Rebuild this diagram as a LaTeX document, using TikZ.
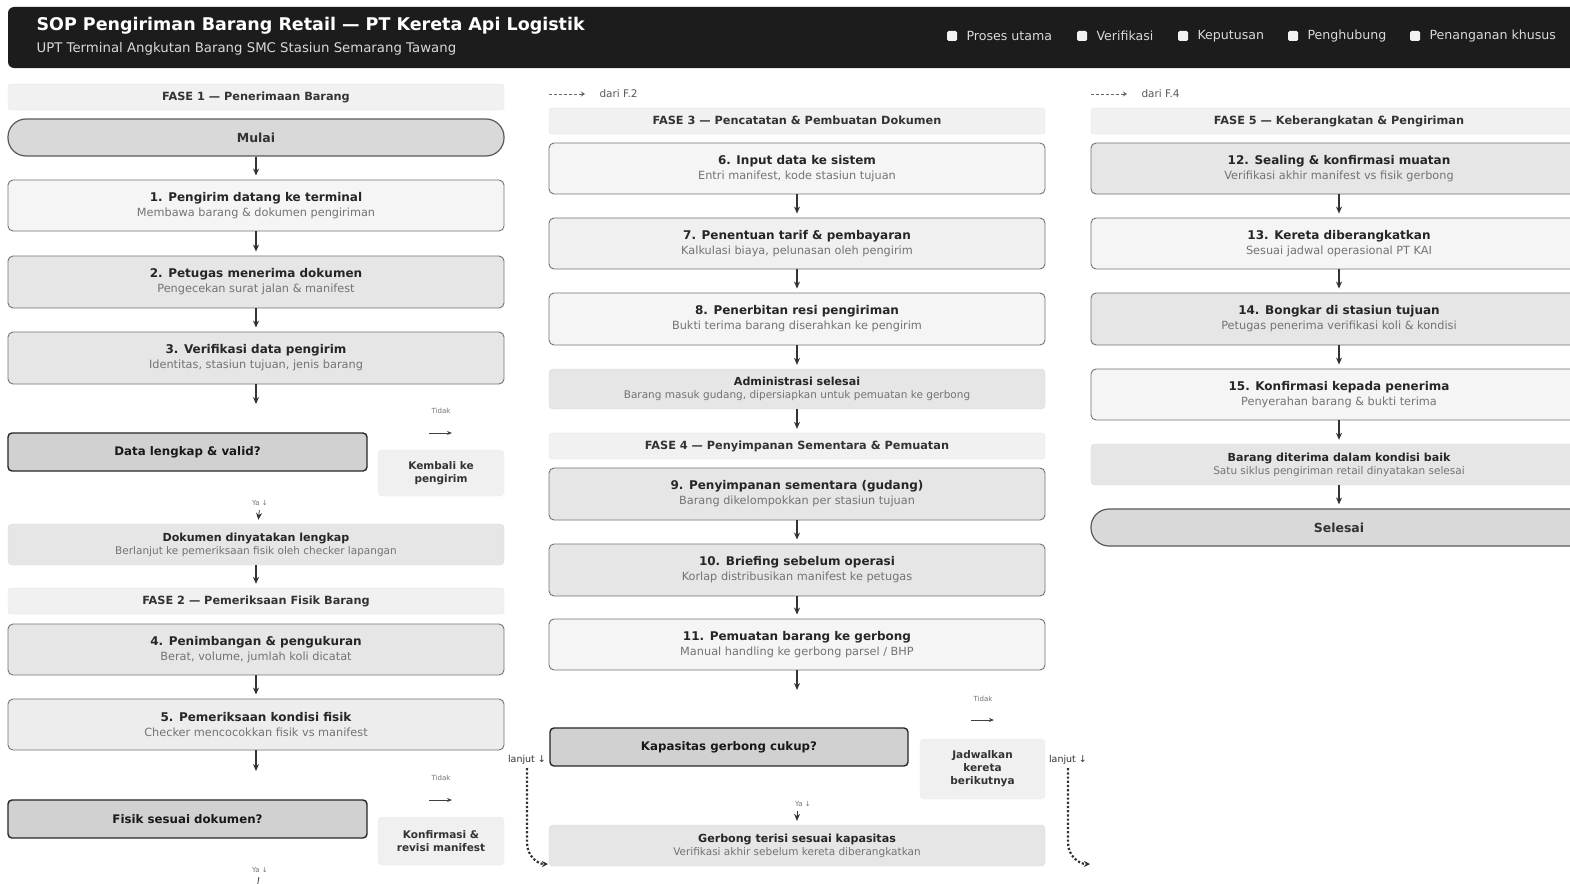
\documentclass[tikz,border=0pt]{standalone}
\usepackage{fontspec}
\setmainfont{DejaVu Sans}
\usepackage{tikz}
\usetikzlibrary{arrows.meta, positioning}

\definecolor{hdr}{HTML}{1C1C1C}
\definecolor{lightbox}{HTML}{F5F5F5}
\definecolor{graybox}{HTML}{E6E6E6}
\definecolor{bandfill}{HTML}{F1F1F1}

\newcommand{\steplbl}[2]{{\bfseries\fontsize{12}{15}\selectfont #1}\\[3pt]{\fontsize{11.3}{12}\selectfont\color{black!55}#2}}
\newcommand{\closelbl}[2]{{\bfseries\fontsize{11.1}{13}\selectfont #1}\\[1pt]{\fontsize{10.5}{11}\selectfont\color{black!55}#2}}

\begin{document}
\begin{tikzpicture}[x=1pt,y=-1pt,
  phase/.style={draw=black!10, fill=bandfill, rounded corners=3pt, minimum width=496pt, minimum height=26pt, inner sep=0pt, text height=8pt, text depth=1pt, font=\bfseries\fontsize{11.3}{13}\selectfont, text=black!80},
  stepbox/.style={draw=black!55, line width=0.9pt, rounded corners=5pt, minimum width=496pt, minimum height=52pt, inner sep=0pt, align=center, text=black!85},
  endbox/.style={draw=black!15, fill=graybox, rounded corners=4pt, minimum width=496pt, minimum height=41pt, inner sep=0pt, align=center, text=black!85},
  term/.style={draw=black!65, line width=1.2pt, fill=black!15, rounded corners=18pt, minimum width=496pt, minimum height=37pt, font=\bfseries\fontsize{12.5}{15}\selectfont, text=black!80},
  decision/.style={draw=black!85, line width=1.4pt, fill=black!18, rounded corners=4pt, minimum width=359pt, minimum height=38pt, font=\bfseries\fontsize{11.8}{15}\selectfont, text=black!90},
  sidebox/.style={draw=black!8, fill=black!6, rounded corners=4pt, minimum width=126pt, minimum height=46pt, inner sep=0pt, align=center, font=\bfseries\fontsize{10.5}{13}\selectfont, text=black!80},
  tinylbl/.style={font=\fontsize{7}{8}\selectfont, text=black!55},
  lanjutlbl/.style={font=\fontsize{9.5}{10}\selectfont, text=black!80},
  flow/.style={-{Stealth[length=7pt,width=6pt]}, line width=1.3pt, draw=black!80, shorten >=4pt},
  jump/.style={-{Stealth[length=6pt,width=6pt]}, dash pattern=on 2.2pt off 2pt, line width=2.2pt, draw=black!80},
]
\useasboundingbox (0,0) rectangle (1570,883);
\clip (0,0) rectangle (1570,883);
\fill[white] (0,0) rectangle (1570,883);

% header bar
\fill[hdr, rounded corners=6pt] (8,7) rectangle (1580,68);
\node[anchor=west, text=white, font=\bfseries\fontsize{17.5}{19}\selectfont] (title) at (33,26) {SOP Pengiriman Barang Retail — PT Kereta Api Logistik};
\node[anchor=west, text=black!15, font=\fontsize{13.3}{15}\selectfont] (subtitle) at (33,49) {UPT Terminal Angkutan Barang SMC Stasiun Semarang Tawang};

% legend
\foreach \lx/\ltxt in {952/Proses utama, 1082/Verifikasi, 1183/Keputusan, 1293/Penghubung, 1415/Penanganan khusus} {
  \fill[black!5, rounded corners=1.5pt] (\lx-5,31) rectangle (\lx+5,41);
  \node[anchor=west, text=black!15, font=\fontsize{12.6}{14}\selectfont] at (\lx+11,36) {\ltxt};
}

% ---------- column 1 ----------
\node[phase] (f1) at (256,97) {FASE 1 — Penerimaan Barang};
\node[term] (mulai) at (256,137.5) {Mulai};
\node[stepbox, fill=lightbox, minimum height=51pt] (s1) at (256,205.5) {\steplbl{1. Pengirim datang ke terminal}{Membawa barang \& dokumen pengiriman}};
\node[stepbox, fill=graybox] (s2) at (256,282) {\steplbl{2. Petugas menerima dokumen}{Pengecekan surat jalan \& manifest}};
\node[stepbox, fill=graybox] (s3) at (256,358) {\steplbl{3. Verifikasi data pengirim}{Identitas, stasiun tujuan, jenis barang}};
\coordinate (d1in) at (256,404);
\node[decision] (dec1) at (187.5,452) {Data lengkap \& valid?};
\node[tinylbl] (tidak1) at (441,411) {Tidak};
\coordinate (t1a) at (429,433);
\coordinate (t1b) at (452,433);
\node[sidebox] (kembali) at (441,473) {Kembali ke\\pengirim};
\node[tinylbl] (ya1) at (260,503) {Ya ↓};
\node[endbox] (dok) at (256,544.5) {\closelbl{Dokumen dinyatakan lengkap}{Berlanjut ke pemeriksaan fisik oleh checker lapangan}};
\node[phase] (f2) at (256,601) {FASE 2 — Pemeriksaan Fisik Barang};
\node[stepbox, fill=graybox, minimum height=51pt] (s4) at (256,649.5) {\steplbl{4. Penimbangan \& pengukuran}{Berat, volume, jumlah koli dicatat}};
\node[stepbox, fill=black!7, minimum height=51pt] (s5) at (256,724.5) {\steplbl{5. Pemeriksaan kondisi fisik}{Checker mencocokkan fisik vs manifest}};
\coordinate (d2in) at (256,771);
\node[tinylbl] (tidak2) at (441,778) {Tidak};
\coordinate (t2a) at (429,800);
\coordinate (t2b) at (452,800);
\node[decision] (dec2) at (187.5,819) {Fisik sesuai dokumen?};
\node[sidebox, minimum height=48pt] (konfirm) at (441,841) {Konfirmasi \&\\revisi manifest};
\node[tinylbl] (ya2) at (260,870) {Ya ↓};
\coordinate (ya2end) at (256,895);

\draw[flow] (mulai) -- (s1);
\draw[flow] (s1) -- (s2);
\draw[flow] (s2) -- (s3);
\draw[flow, shorten >=0pt] (s3) -- (d1in);
\draw[-{Stealth[length=5pt,width=4pt]}, line width=0.9pt, draw=black!75] (t1a) -- (t1b);
\draw[flow, line width=0.8pt, shorten <=1pt] (ya1) -- (dok);
\draw[flow] (dok) -- (f2);
\draw[flow] (s4) -- (s5);
\draw[flow, shorten >=0pt] (s5) -- (d2in);
\draw[-{Stealth[length=5pt,width=4pt]}, line width=0.9pt, draw=black!75] (t2a) -- (t2b);
\draw[line width=0.8pt, draw=black!75, shorten <=1pt] (ya2) -- (ya2end);

% ---------- column 2 ----------
\coordinate (m2a) at (549,94);
\coordinate (m2b) at (585,94);
\draw[-{Stealth[length=4pt,width=5pt]}, dash pattern=on 3pt off 2pt, line width=1pt, draw=black!60] (m2a) -- (m2b);
\node[anchor=west, font=\fontsize{10.5}{11}\selectfont, text=black!65] (dari2) at (596,94) {dari F.2};
\node[phase] (f3) at (797,121) {FASE 3 — Pencatatan \& Pembuatan Dokumen};
\node[stepbox, fill=lightbox, minimum height=51pt] (s6) at (797,168.5) {\steplbl{6. Input data ke sistem}{Entri manifest, kode stasiun tujuan}};
\node[stepbox, fill=black!6, minimum height=51pt] (s7) at (797,243.5) {\steplbl{7. Penentuan tarif \& pembayaran}{Kalkulasi biaya, pelunasan oleh pengirim}};
\node[stepbox, fill=lightbox] (s8) at (797,319) {\steplbl{8. Penerbitan resi pengiriman}{Bukti terima barang diserahkan ke pengirim}};
\node[endbox, minimum height=40pt] (adm) at (797,389) {\closelbl{Administrasi selesai}{Barang masuk gudang, dipersiapkan untuk pemuatan ke gerbong}};
\node[phase] (f4) at (797,446) {FASE 4 — Penyimpanan Sementara \& Pemuatan};
\node[stepbox, fill=graybox] (s9) at (797,494) {\steplbl{9. Penyimpanan sementara (gudang)}{Barang dikelompokkan per stasiun tujuan}};
\node[stepbox, fill=graybox] (s10) at (797,570) {\steplbl{10. Briefing sebelum operasi}{Korlap distribusikan manifest ke petugas}};
\node[stepbox, fill=lightbox, minimum height=51pt] (s11) at (797,644.5) {\steplbl{11. Pemuatan barang ke gerbong}{Manual handling ke gerbong parsel / BHP}};
\coordinate (d3in) at (797,690);
\node[tinylbl] (tidak3) at (983,699) {Tidak};
\coordinate (t3a) at (971,720);
\coordinate (t3b) at (994,720);
\node[decision, minimum width=358pt] (dec3) at (729,747) {Kapasitas gerbong cukup?};
\node[sidebox, minimum width=125pt, minimum height=60pt] (jadwal) at (982.5,769) {Jadwalkan\\kereta\\berikutnya};
\node[tinylbl] (ya3) at (803,804) {Ya ↓};
\node[endbox] (gerbong) at (797,845.5) {\closelbl{Gerbong terisi sesuai kapasitas}{Verifikasi akhir sebelum kereta diberangkatkan}};

\draw[flow] (s6) -- (s7);
\draw[flow] (s7) -- (s8);
\draw[flow] (s8) -- (adm);
\draw[flow] (adm) -- (f4);
\draw[flow] (s9) -- (s10);
\draw[flow] (s10) -- (s11);
\draw[flow, shorten >=0pt] (s11) -- (d3in);
\draw[-{Stealth[length=5pt,width=4pt]}, line width=0.9pt, draw=black!75] (t3a) -- (t3b);
\draw[flow, line width=0.8pt, shorten <=1pt] (ya3.south -| gerbong.north) -- (gerbong);

% continuation links
\node[lanjutlbl] (lanjut1) at (527,760) {lanjut ↓};
\coordinate (lj1end) at (548,864);
\draw[jump] (lanjut1.south) -- (527,843) to[out=-90, in=180] (lj1end);
\node[lanjutlbl] (lanjut2) at (1068,760) {lanjut ↓};
\coordinate (lj2end) at (1090,864);
\draw[jump] (lanjut2.south) -- (1068,843) to[out=-90, in=180] (lj2end);

% ---------- column 3 ----------
\coordinate (m4a) at (1091,94);
\coordinate (m4b) at (1127,94);
\draw[-{Stealth[length=4pt,width=5pt]}, dash pattern=on 3pt off 2pt, line width=1pt, draw=black!60] (m4a) -- (m4b);
\node[anchor=west, font=\fontsize{10.5}{11}\selectfont, text=black!65] (dari4) at (1138,94) {dari F.4};
\node[phase] (f5) at (1339,121) {FASE 5 — Keberangkatan \& Pengiriman};
\node[stepbox, fill=graybox, minimum height=51pt] (s12) at (1339,168.5) {\steplbl{12. Sealing \& konfirmasi muatan}{Verifikasi akhir manifest vs fisik gerbong}};
\node[stepbox, fill=lightbox, minimum height=51pt] (s13) at (1339,243.5) {\steplbl{13. Kereta diberangkatkan}{Sesuai jadwal operasional PT KAI}};
\node[stepbox, fill=graybox] (s14) at (1339,319) {\steplbl{14. Bongkar di stasiun tujuan}{Petugas penerima verifikasi koli \& kondisi}};
\node[stepbox, fill=lightbox, minimum height=51pt] (s15) at (1339,394.5) {\steplbl{15. Konfirmasi kepada penerima}{Penyerahan barang \& bukti terima}};
\node[endbox] (diterima) at (1339,464.5) {\closelbl{Barang diterima dalam kondisi baik}{Satu siklus pengiriman retail dinyatakan selesai}};
\node[term] (selesai) at (1339,527.5) {Selesai};

\draw[flow] (s12) -- (s13);
\draw[flow] (s13) -- (s14);
\draw[flow] (s14) -- (s15);
\draw[flow] (s15) -- (diterima);
\draw[flow] (diterima) -- (selesai);
\end{tikzpicture}
\end{document}
